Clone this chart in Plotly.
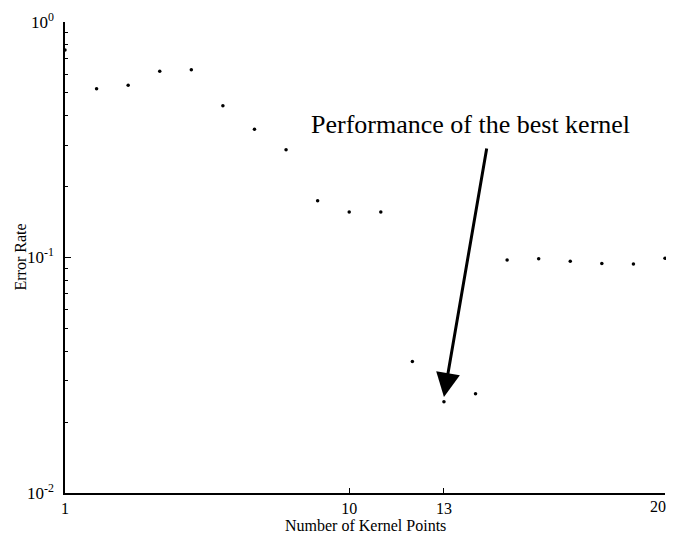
import plotly.graph_objects as go

kernel_points = list(range(1, 21))
error_rate = [0.760, 0.521, 0.539, 0.618, 0.627, 0.441, 0.350, 0.287, 0.174, 0.156,
              0.156, 0.0362, 0.0244, 0.0264, 0.0976, 0.0988, 0.0964, 0.0944, 0.0938, 0.0992]

x_tickvals = [1, 10, 13, 20]
x_ticktext = ["1", "10", "13", ""]
last_tick_label = "20"
y_tickvals = [0.01, 0.1, 1]
y_ticktext = ["10<sup>-2</sup>", "10<sup>-1</sup>", "10<sup>0</sup>"]
y_minor = [m * d for d in (0.01, 0.1) for m in range(2, 10)]

annotation_text = "Performance of the best kernel"
best_x = 13
arrow_tip_log = -1.592

FONT = "Liberation Serif, Times New Roman, serif"

fig = go.Figure()
fig.add_trace(go.Scatter(
    x=kernel_points, y=error_rate, mode="markers",
    marker=dict(color="black", size=3.5),
    cliponaxis=False, showlegend=False,
))

fig.update_layout(
    width=666, height=527,
    margin=dict(l=57, r=9, t=14, b=42, autoexpand=False),
    paper_bgcolor="white", plot_bgcolor="white",
    font=dict(family=FONT, color="black", size=16),
    xaxis=dict(
        range=[1, 20], tickmode="array", tickvals=x_tickvals, ticktext=x_ticktext,
        ticks="inside", ticklen=5, tickwidth=1, tickcolor="black",
        showline=True, linecolor="black", linewidth=1.5, showgrid=False, zeroline=False,
        tickfont=dict(size=16), ticklabelstandoff=0, automargin=False,
    ),
    yaxis=dict(
        type="log", range=[-2, 0], tickmode="array", tickvals=y_tickvals, ticktext=y_ticktext,
        ticks="inside", ticklen=6, tickwidth=1, tickcolor="black",
        minor=dict(tickmode="array", tickvals=y_minor, ticks="inside", ticklen=3,
                   tickcolor="black", tickwidth=1, showgrid=False),
        showline=True, linecolor="black", linewidth=1.5, showgrid=False, zeroline=False,
        tickfont=dict(size=17), ticklabelstandoff=6, automargin=False,
    ),
)

fig.add_annotation(
    x=1.0, y=0, xref="paper", yref="paper",
    xanchor="right", yanchor="top", xshift=3, yshift=-3,
    text=last_tick_label, showarrow=False,
    font=dict(family=FONT, size=16, color="black"),
)
fig.add_annotation(
    x=-0.075, y=0.5, xref="paper", yref="paper",
    xanchor="center", yanchor="middle", textangle=-90,
    text="Error Rate", showarrow=False,
    font=dict(family=FONT, size=16, color="black"),
)
fig.add_annotation(
    x=0.5, y=-0.068, xref="paper", yref="paper",
    xanchor="center", yanchor="middle",
    text="Number of Kernel Points", showarrow=False,
    font=dict(family=FONT, size=16, color="black"),
)
fig.add_annotation(
    x=best_x, y=arrow_tip_log, xref="x", yref="y",
    ax=43, ay=-250, axref="pixel", ayref="pixel",
    text="", showarrow=True, arrowhead=2, arrowsize=1.6, arrowwidth=3,
    arrowcolor="black", standoff=0,
)
fig.add_annotation(
    x=0.407, y=0.783, xref="paper", yref="paper",
    xanchor="left", yanchor="middle",
    text=annotation_text, showarrow=False,
    font=dict(family=FONT, size=26, color="black"),
)

fig.write_html("out.html")
